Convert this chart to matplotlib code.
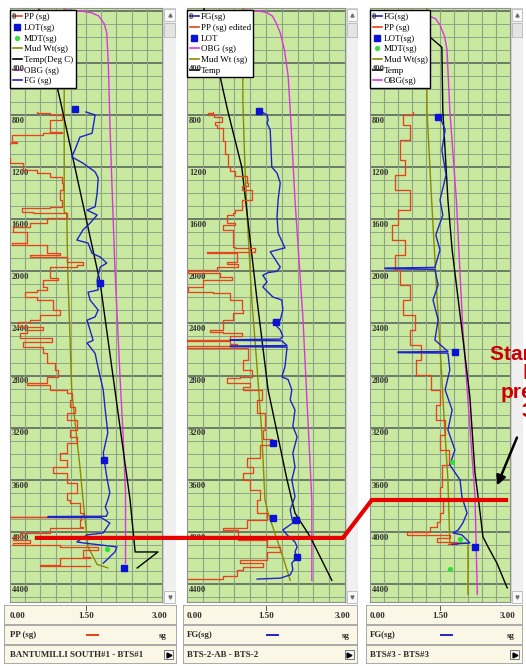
import matplotlib
matplotlib.use("Agg")
import matplotlib.pyplot as plt
from matplotlib.lines import Line2D
from matplotlib.patches import Rectangle
import matplotlib.transforms as mtransforms

# ------------------------------------------------------------------ DATA
depth_min, depth_max = -21, 4538
sg_min, sg_max = 0.0, 3.0
depth_label_values = [0, 400, 800, 1200, 1600, 2000, 2400, 2800, 3200, 3600, 4000, 4400]
scale_labels = ["0.00", "1.50", "3.00"]
well_names = ["BANTUMILLI SOUTH#1 - BTS#1", "BTS-2-AB - BTS-2", "BTS#3 - BTS#3"]
footer_curve_labels = ["PP (sg)", "FG(sg)", "FG(sg)"]
footer_curve_keys = ["pp", "fg", "fg"]
footer_unit = "sg"

# ---- well 1 (depth m, value sg)
p1_pp = [(777, 0.53), (785, 0.79), (800, 1.03), (839, 0.79), (877, 0.79), (930, 1.03), (940, 0.65),
         (953, 0.04), (1008, 0.14), (1015, 0.0), (1020, -0.2), (1125, -0.2), (1130, 0.0), (1170, 0.26),
         (1222, 0.53), (1246, 0.79), (1276, 1.03), (1322, 1.05), (1376, 0.99), (1453, 1.03), (1505, 0.79),
         (1515, 0.24), (1545, 0.45), (1552, 1.12), (1591, 0.73), (1630, 0.39), (1660, 0.06), (1700, 0.33),
         (1783, 0.04), (1800, 0.73), (1862, 0.99), (1877, 0.39), (1890, 1.12), (1930, 1.44), (1952, 1.32),
         (1967, 0.79), (2044, 0.79), (2052, 0.95), (2067, 0.65), (2120, 0.73), (2143, 0.53), (2160, 0.30),
         (2197, 0.53), (2220, 0.85), (2297, 0.99), (2335, 0.59), (2375, 0.39), (2390, 0.16), (2428, 0.65),
         (2450, 0.33), (2475, 0.20), (2512, 0.83), (2543, 0.26), (2580, 0.65), (2630, 0.73), (2705, 0.89),
         (2757, 0.95), (2810, 0.73), (2860, 0.33), (2873, 0.79), (2910, 1.12), (2934, 1.22), (2987, 1.18),
         (3040, 1.28), (3090, 1.12), (3140, 1.32), (3217, 1.18), (3270, 1.32), (3320, 1.12), (3395, 0.99),
         (3448, 1.12), (3502, 0.85), (3550, 1.12), (3627, 1.32), (3703, 1.12), (3755, 1.18), (3780, 1.38),
         (3855, 1.44), (3883, -0.2), (3888, 1.40), (3910, 1.38), (3965, 1.44), (3970, 0.79), (4008, 0.20),
         (4038, 0.06), (4060, 0.39), (4085, 0.06), (4100, 0.99), (4115, 1.74), (4139, 1.44), (4192, 1.58),
         (4200, 0.99), (4253, 0.59), (4258, 1.58)]
p1_fg = [(777, 1.50), (800, 1.68), (940, 1.62), (970, 1.38), (1069, 1.28), (1122, 1.22), (1170, 1.44),
         (1237, 1.68), (1283, 1.74), (1400, 1.72), (1505, 1.68), (1530, 1.52), (1568, 1.72), (1630, 1.58),
         (1683, 1.44), (1760, 1.32), (1783, 1.54), (1862, 1.62), (1890, 1.78), (1937, 1.91), (1967, 1.78),
         (2067, 1.72), (2143, 1.74), (2160, 1.54), (2220, 1.58), (2297, 1.74), (2350, 1.68), (2375, 1.52),
         (2450, 1.58), (2530, 1.64), (2550, 1.52), (2630, 1.68), (2705, 1.72), (2810, 1.78), (2910, 1.84),
         (3065, 1.88), (3240, 1.93), (3395, 1.84), (3448, 1.86), (3580, 1.91), (3700, 1.97), (3755, 1.93),
         (3808, 1.88), (3855, 1.93), (3880, 1.90), (3882, 0.75), (3888, 0.75), (3890, 1.80), (3932, 1.97),
         (4008, 1.84), (4023, 1.52), (4077, 1.32), (4085, 1.45), (4100, 1.78), (4115, 2.11), (4154, 2.07),
         (4215, 1.91), (4240, 1.84)]
p1_obg = [(-5, 1.09), (5, 1.44), (15, 1.60), (40, 1.75), (100, 1.86), (170, 1.91), (400, 1.94), (840, 1.97),
          (1200, 2.00), (1970, 2.07), (2800, 2.17), (3240, 2.23), (3700, 2.28), (4240, 2.28)]
p1_temp = [(-10, 0.57), (685, 0.99), (2090, 1.78), (3755, 2.37), (4154, 2.47), (4154, 2.92), (4277, 2.51)]
p1_mud = [(-20, 1.07), (1545, 1.07), (1555, 1.12), (2000, 1.14), (2930, 1.22), (3500, 1.38), (3750, 1.44),
          (4115, 1.54), (4250, 1.72), (4276, 1.93)]
p1_lot = [(754, 1.28), (2090, 1.78), (3448, 1.86), (4277, 2.25)]
p1_mdt = [(4131, 1.91)]

# ---- well 2
p2_pp = [(777, 0.50), (787, 0.40), (800, 0.52), (815, 0.66), (853, 0.53), (877, 0.57), (900, 0.69),
         (1000, 0.72), (1100, 0.78), (1200, 0.82), (1230, 0.91), (1265, 1.14), (1322, 1.16), (1345, 1.04),
         (1375, 1.23), (1452, 1.04), (1505, 1.04), (1530, 0.91), (1552, 0.87), (1570, 0.76), (1630, 0.91),
         (1645, 0.68), (1683, 0.87), (1812, 0.91), (1820, 1.29), (1850, 0.38), (1860, 0.95), (1930, 0.76),
         (1945, 0.97), (1967, 0.57), (1990, 0.02), (2010, 0.63), (2044, 0.85), (2067, 0.30), (2120, 0.02),
         (2160, 0.49), (2170, 0.82), (2220, 1.04), (2297, 1.06), (2320, 0.87), (2375, 0.68), (2450, 0.44),
         (2465, 0.68), (2475, 1.04), (2500, 0.82), (2527, 0.0), (2535, 0.82), (2560, 0.95), (2575, 0.0),
         (2585, 1.16), (2680, 1.06), (2757, 1.23), (2810, 1.01), (2822, 0.76), (2860, 1.20), (2890, 1.06),
         (2910, 1.42), (2987, 1.33), (3090, 1.48), (3218, 1.44), (3290, 1.61), (3335, 1.39), (3433, 1.14),
         (3502, 1.25), (3550, 1.06), (3601, 1.20), (3680, 1.39), (3755, 1.33), (3855, 1.52), (3910, 1.14),
         (3970, 0.68), (3985, 0.97), (4060, 1.52), (4115, 1.77), (4154, 1.52), (4215, 1.01), (4240, 1.44),
         (4270, 1.06), (4290, 0.95), (4340, 0.68), (4362, 0.02)]
p2_fg = [(777, 1.42), (800, 1.52), (838, 1.54), (862, 1.52), (915, 1.58), (1200, 1.61), (1246, 1.71),
         (1322, 1.77), (1452, 1.73), (1583, 1.71), (1706, 1.73), (1820, 1.86), (1850, 1.58), (1930, 1.71),
         (1967, 1.77), (2000, 1.71), (2010, 1.54), (2030, 1.44), (2080, 1.52), (2120, 1.44), (2197, 1.63),
         (2220, 1.80), (2297, 1.82), (2375, 1.77), (2390, 1.63), (2450, 1.77), (2500, 1.82), (2520, 1.77),
         (2525, 0.82), (2530, 0.82), (2533, 1.80), (2570, 1.90), (2573, 0.82), (2578, 0.82), (2582, 1.90),
         (2733, 1.86), (2810, 1.80), (2830, 1.92), (2910, 1.99), (2987, 1.96), (3064, 2.05), (3190, 2.01),
         (3270, 2.09), (3395, 2.01), (3502, 2.05), (3601, 1.99), (3730, 2.05), (3830, 1.96), (3931, 2.01),
         (3985, 1.82), (4023, 1.90), (4077, 2.05), (4115, 2.09), (4154, 2.05), (4192, 2.09), (4240, 1.99),
         (4290, 2.01), (4330, 1.96), (4355, 1.77), (4362, 1.33)]
p2_obg = [(-5, 1.06), (5, 1.40), (15, 1.52), (40, 1.62), (100, 1.70), (170, 1.77), (300, 1.85), (500, 1.92),
          (760, 1.96), (1452, 2.05), (2350, 2.20), (3502, 2.34), (3755, 2.37), (4372, 2.37)]
p2_temp = [(-20, 0.32), (508, 0.63), (762, 0.77), (1200, 1.04), (2220, 1.33), (2910, 1.54), (3601, 1.90),
           (3855, 2.05), (4038, 2.34), (4372, 2.75)]
p2_mud = [(-20, 1.06), (685, 1.06), (1200, 1.10), (1706, 1.16), (2220, 1.23), (2733, 1.33), (3240, 1.42),
          (3755, 1.48), (3855, 1.54), (4060, 1.71), (4192, 1.82), (4372, 1.96)]
p2_lot = [(770, 1.37), (2390, 1.69), (3318, 1.63), (3895, 1.64), (3908, 2.07), (4192, 2.09)]
p2_mdt = []

# ---- well 3
p3_pp = [(777, 0.92), (800, 0.71), (877, 0.86), (992, 0.64), (1146, 0.75), (1260, 0.54), (1376, 0.86),
         (1529, 0.60), (1644, 0.47), (1759, 0.75), (1875, 0.54), (1990, 0.64), (2105, 0.86), (2220, 0.70),
         (2335, 0.96), (2450, 0.85), (2565, 1.10), (2680, 0.98), (2795, 1.30), (2910, 1.50), (3025, 1.42),
         (3141, 1.60), (3256, 1.50), (3371, 1.70), (3486, 1.55), (3601, 1.54), (3655, 1.50), (3755, 1.56),
         (3855, 1.50), (3924, 1.44), (3965, 1.29), (4000, 0.79), (4023, 1.71), (4046, 1.44), (4077, 1.86),
         (4090, 1.67)]
p3_fg = [(816, 1.50), (915, 1.61), (1069, 1.54), (1260, 1.63), (1452, 1.50), (1568, 1.56), (1721, 1.41),
         (1836, 1.50), (1970, 1.39), (1975, 0.32), (1980, 0.32), (1985, 1.39), (2105, 1.46), (2220, 1.35),
         (2373, 1.46), (2527, 1.39), (2615, 1.67), (2619, 0.60), (2624, 0.60), (2628, 1.67), (2757, 1.71),
         (2910, 1.61), (3064, 1.76), (3218, 1.67), (3371, 1.82), (3486, 1.71), (3601, 1.93), (3732, 1.97),
         (3855, 2.08), (3931, 1.99), (3985, 1.89), (4008, 1.78), (4023, 1.97), (4085, 2.14), (4090, 1.93),
         (4095, 1.76)]
p3_obg = [(18, 0.06), (30, 1.00), (38, 1.25), (60, 1.40), (109, 1.50), (200, 1.60), (301, 1.65), (762, 1.71),
          (1450, 1.85), (2450, 1.99), (3730, 2.25), (4480, 2.30)]
p3_temp = [(0, 1.18), (170, 1.18), (280, 1.54), (762, 1.56), (1453, 1.67), (1836, 1.76), (2450, 1.97),
           (2964, 2.14), (3548, 2.25), (3855, 2.36), (4038, 2.42), (4115, 2.53), (4240, 2.72), (4430, 2.94)]
p3_mud = [(-20, 1.22), (762, 1.22), (1450, 1.32), (2100, 1.42), (2700, 1.52), (3200, 1.60), (3601, 1.67),
          (4085, 1.71), (4086, 2.10), (4480, 2.10)]
p3_lot = [(815, 1.46), (2620, 1.82), (4115, 2.25)]
p3_mdt = [(3463, 1.76), (4055, 1.93), (4285, 1.71)]

legend_1 = [("pp", "PP (sg)"), ("lot", "LOT(sg)"), ("mdt", "MDT(sg)"), ("mud", "Mud Wt(sg)"),
            ("temp", "Temp(Deg C)"), ("obg", "OBG (sg)"), ("fg", "FG (sg)")]
legend_2 = [("fg", "FG(sg)"), ("pp", "PP (sg) edited"), ("lot", "LOT"), ("obg", "OBG (sg)"),
            ("mud", "Mud Wt (sg)"), ("temp", "Temp")]
legend_3 = [("fg", "FG(sg)"), ("pp", "PP (sg)"), ("lot", "LOT(sg)"), ("mdt", "MDT(sg)"),
            ("mud", "Mud Wt(sg)"), ("temp", "Temp"), ("obg", "OBG(sg)")]

# annotation (red marker line of start of high pressure)
anno_depth_12 = 4046
anno_depth_3 = 3755
anno_text = "Start of the\nhigh\npressure\n3750"

# ------------------------------------------------------------------ STYLE
W, H = 526, 666
GREEN = "#c9e9a0"
GRID_MINOR = "#8fa486"
GRID_MAJOR = "#6b7a66"
BEIGE = "#fbf7e7"
COL = {"pp": "#e5431d", "fg": "#1c24c8", "obg": "#dd35dd", "mud": "#8c8a00", "temp": "#000000",
       "lot": "#0b12d6", "mdt": "#33e03a"}
SERIF = ["Liberation Serif", "DejaVu Serif"]

LAYOUT = [
    dict(green=(10, 8, 162, 602), scroll=(163, 8, 176, 604), foot=(4, 605, 177, 664)),
    dict(green=(187, 8, 345, 602), scroll=(346, 8, 358, 604), foot=(183, 605, 358, 664)),
    dict(green=(370, 8, 510, 602), scroll=(511, 8, 523, 604), foot=(366, 605, 523, 664)),
]

fig = plt.figure(figsize=(W / 100, H / 100), dpi=100)
fig.patch.set_facecolor("white")


def frac(box):
    x0, y0, x1, y1 = box
    return [x0 / W, 1 - y1 / H, (x1 - x0) / W, (y1 - y0) / H]


def unzip(pairs):
    return [p[1] for p in pairs], [p[0] for p in pairs]


def draw_track(ax, data, legend_spec):
    ax.set_facecolor(GREEN)
    ax.set_xlim(sg_min, sg_max)
    ax.set_ylim(depth_max, depth_min)
    ax.set_xticks([])
    ax.set_yticks([])
    for s in ax.spines.values():
        s.set_color("#909090")
        s.set_linewidth(0.8)
    minor = [d for d in range(0, 4600, 100) if d % 400]
    major = list(range(0, 4600, 400))
    ax.hlines(minor, sg_min, sg_max, colors=GRID_MINOR, lw=0.7, zorder=1)
    ax.hlines(major, sg_min, sg_max, colors=GRID_MAJOR, lw=1.4, zorder=1)
    ax.vlines([i * 0.3 for i in range(1, 10)], depth_min, depth_max, colors=GRID_MINOR, lw=0.8, zorder=1)

    trans = mtransforms.blended_transform_factory(ax.transAxes, ax.transData)
    for d in depth_label_values:
        ax.text(0.012, d + 14, str(d), transform=trans, ha="left", va="top", family=SERIF,
                fontweight="bold", fontsize=6.2, color="#333333", zorder=6 if d < 800 else 2)

    for key in ("obg", "mud", "temp"):
        x, y = unzip(data[key])
        ax.plot(x, y, color=COL[key], lw=1.0, zorder=3)
    x, y = unzip(data["pp"])
    ax.plot(x, y, color=COL["pp"], lw=0.95, drawstyle="steps-pre", zorder=3)
    x, y = unzip(data["fg"])
    ax.plot(x, y, color=COL["fg"], lw=1.0, zorder=3)
    if data["lot"]:
        x, y = unzip(data["lot"])
        ax.plot(x, y, ls="none", marker="s", ms=4.2, color=COL["lot"], zorder=4)
    if data["mdt"]:
        x, y = unzip(data["mdt"])
        ax.plot(x, y, ls="none", marker="o", ms=3.8, color=COL["mdt"], mec="none", zorder=4)

    handles = []
    labels = []
    for key, lab in legend_spec:
        if key == "lot":
            h = Line2D([], [], ls="none", marker="s", ms=4.5, color=COL["lot"])
        elif key == "mdt":
            h = Line2D([], [], ls="none", marker="o", ms=3.8, color=COL["mdt"], mec="none")
        else:
            h = Line2D([], [], color=COL[key], lw=1.2)
        handles.append(h)
        labels.append(lab)
    leg = ax.legend(handles, labels, loc="upper left", bbox_to_anchor=(0.0, 0.996), borderaxespad=0,
                    prop=dict(family=SERIF, size=6.5), frameon=True, fancybox=False, framealpha=1,
                    edgecolor="black", borderpad=0.3, labelspacing=0.26, handlelength=1.0,
                    handletextpad=0.2)
    leg.get_frame().set_linewidth(1.0)
    leg.set_zorder(5)


def draw_scroll(ax, box):
    x0, y0, x1, y1 = box
    w, h = x1 - x0, y1 - y0
    ax.set_xlim(0, w)
    ax.set_ylim(h, 0)
    ax.axis("off")
    ax.add_patch(Rectangle((0, 0), w, h, facecolor="#f0f0f0", edgecolor="#d0d0d0", lw=0.8))
    ax.add_patch(Rectangle((0.8, 1), w - 1.6, 12, facecolor="#f8f8f8", edgecolor="#b8b8b8", lw=0.6))
    ax.plot([w / 2], [7], marker="^", ms=2.2, color="#707070")
    ax.add_patch(Rectangle((0.8, 15), w - 1.6, 14, facecolor="#e4e4e4", edgecolor="#b8b8b8", lw=0.6))
    ax.add_patch(Rectangle((0.8, h - 13), w - 1.6, 12, facecolor="#f8f8f8", edgecolor="#b8b8b8", lw=0.6))
    ax.plot([w / 2], [h - 7], marker="v", ms=2.2, color="#707070")


def draw_footer(ax, box, green, label, color, name):
    x0, y0, x1, y1 = box
    ax.set_xlim(x0, x1)
    ax.set_ylim(y1, y0)
    ax.axis("off")
    ax.add_patch(Rectangle((x0, y0), x1 - x0, y1 - y0, facecolor=BEIGE, edgecolor="#9c9c9c", lw=1.2))
    ax.hlines([625, 645], x0, x1, colors="#a6a6a6", lw=1.3)
    gx0, gx1 = green[0], green[2]
    gm = (gx0 + gx1) / 2
    fp = dict(family=SERIF, fontweight="bold", fontsize=6.4, color="#2b2b2b")
    ax.text(gx0, 615.5, scale_labels[0], ha="left", va="center", **fp)
    ax.text(gm, 616.5, scale_labels[1], ha="center", va="center", **fp)
    ax.plot([gm, gm], [605.5, 609.5], color="#555555", lw=0.7)
    ax.text(gx1 + 5, 615.5, scale_labels[2], ha="right", va="center", **fp)
    ax.text(gx0, 635, label, ha="left", va="center", **fp)
    ax.plot([gm + 1, gm + 12], [635, 635], color=color, lw=1.4)
    ax.text(gx1 + 5, 635.5, footer_unit, ha="right", va="center", **fp)
    ax.text(gx0, 655, name, ha="left", va="center", **fp)
    ax.add_patch(Rectangle((x1 - 13, 650), 9, 9, facecolor="#f4f4f4", edgecolor="#777777", lw=0.7))
    ax.plot([x1 - 8.5], [654.5], marker=">", ms=3.5, color="black")


panels = [
    dict(pp=p1_pp, fg=p1_fg, obg=p1_obg, temp=p1_temp, mud=p1_mud, lot=p1_lot, mdt=p1_mdt),
    dict(pp=p2_pp, fg=p2_fg, obg=p2_obg, temp=p2_temp, mud=p2_mud, lot=p2_lot, mdt=p2_mdt),
    dict(pp=p3_pp, fg=p3_fg, obg=p3_obg, temp=p3_temp, mud=p3_mud, lot=p3_lot, mdt=p3_mdt),
]
legends = [legend_1, legend_2, legend_3]

track_axes = []
for i, lay in enumerate(LAYOUT):
    ax = fig.add_axes(frac(lay["green"]))
    draw_track(ax, panels[i], legends[i])
    track_axes.append(ax)
    sax = fig.add_axes(frac(lay["scroll"]))
    draw_scroll(sax, lay["scroll"])
    fax = fig.add_axes(frac(lay["foot"]))
    draw_footer(fax, lay["foot"], lay["green"], footer_curve_labels[i], COL[footer_curve_keys[i]],
                well_names[i])

# ------------------------------------------------------------------ annotation overlay
ov = fig.add_axes([0, 0, 1, 1], zorder=10)
ov.set_xlim(0, W)
ov.set_ylim(H, 0)
ov.axis("off")
ov.patch.set_alpha(0)


def to_ov(ax, x, d):
    disp = ax.transData.transform((x, d))
    return ov.transData.inverted().transform(disp)


pts = [to_ov(track_axes[0], 0.49, anno_depth_12), to_ov(track_axes[1], 2.96, anno_depth_12),
       to_ov(track_axes[2], 0.04, anno_depth_3), to_ov(track_axes[2], 2.96, anno_depth_3)]
ov.plot([p[0] for p in pts], [p[1] for p in pts], color="#e60000", lw=3.0, solid_capstyle="butt",
        solid_joinstyle="miter")
ov.annotate("", xy=(496, 488), xytext=(518, 435),
            arrowprops=dict(arrowstyle="-|>", color="black", lw=1.8, mutation_scale=14))
ov.text(545, 383, anno_text, color="#cc0000", fontsize=15, fontweight="bold",
        family=["Liberation Sans", "DejaVu Sans"], ha="center", va="center", linespacing=1.02)

fig.savefig("out.png", dpi=100)
